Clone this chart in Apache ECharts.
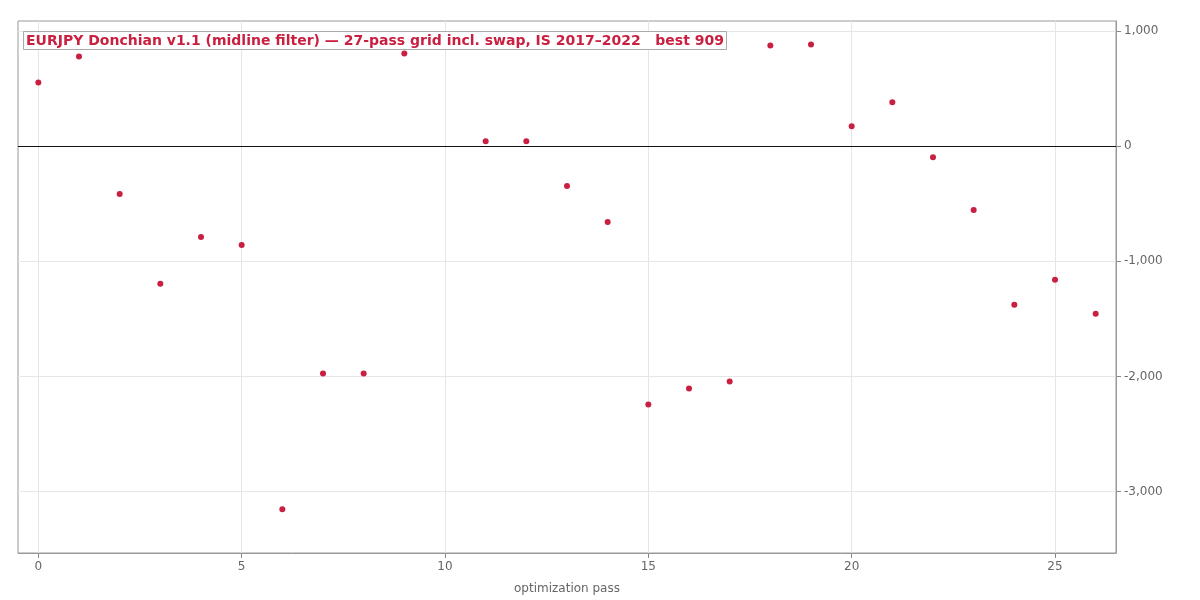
<!DOCTYPE html>
<html>
<head>
<meta charset="utf-8">
<script src="https://cdn.jsdelivr.net/npm/echarts@6/dist/echarts.min.js"></script>
<style>
    html, body { margin: 0; padding: 0; background: #fff; }
    #chart { width: 1200px; height: 600px; }
</style>
</head>
<body>
<div id="chart"></div>
<script>
// Valeurs (profit par passe d'optimisation)
const passes = [0, 1, 2, 3, 4, 5, 6, 7, 8, 9, 10, 11, 12, 13, 14, 15, 16, 17, 18, 19, 20, 21, 22, 23, 24, 25, 26];
const profits = [554, 779, -416, -1195, -788, -857, -3152, -1974, -1974, 805, 909, 43, 43, -346, -658,
                 -2242, -2104, -2043, 874, 883, 173, 381, -95, -554, -1377, -1160, -1455];
const xTicks = [0, 5, 10, 15, 20, 25];
const yTicks = [-3000, -2000, -1000, 0, 1000];

const titleText = "EURJPY Donchian v1.1 (midline filter) \u2014 27-pass grid incl. swap, IS 2017\u20132022   best 909";

const red = "#c91f41";
const font = "DejaVu Sans";

const chart = echarts.init(document.getElementById("chart"));

chart.setOption({
    animation: false,
    backgroundColor: "#fff",
    title: {
        text: titleText,
        left: 23,
        top: 31,
        padding: [3, 3, 2, 3],
        backgroundColor: "#fff",
        borderColor: "#aaa",
        borderWidth: 1,
        textStyle: { color: red, fontFamily: font, fontWeight: "bold", fontSize: 14 }
    },
    grid: { left: 18, right: 84, top: 21, bottom: 45, show: true, borderColor: "#999", borderWidth: 1 },
    xAxis: {
        type: "value",
        min: -0.5,
        max: 26.5,
        name: "optimization pass",
        nameLocation: "middle",
        nameGap: 30,
        nameTextStyle: { color: "#666", fontFamily: font, fontSize: 12 },
        axisLine: { show: true, onZero: false, lineStyle: { color: "#999" } },
        axisTick: { show: true, inside: false, customValues: xTicks, length: 5, lineStyle: { color: "#888", width: 1 } },
        axisLabel: { customValues: xTicks, color: "#666", fontFamily: font, fontSize: 12, margin: 8 },
        splitLine: { show: true, lineStyle: { color: "#e6e6e6" } }
    },
    yAxis: {
        type: "value",
        position: "right",
        min: -3532,
        max: 1087,
        axisLine: { show: true, onZero: false, lineStyle: { color: "#999" } },
        axisTick: { show: true, inside: false, customValues: yTicks, length: 5, lineStyle: { color: "#888", width: 1 } },
        axisLabel: {
            customValues: yTicks,
            color: "#666", fontFamily: font, fontSize: 12, margin: 8,
            formatter: (v) => v.toLocaleString("en-US")
        },
        splitLine: { show: true, lineStyle: { color: "#e6e6e6" } }
    },
    series: [{
        type: "scatter",
        symbolSize: 6,
        itemStyle: { color: red, opacity: 1 },
        data: passes.map((p, i) => [p, profits[i]]),
        markLine: {
            silent: true,
            symbol: "none",
            label: { show: false },
            lineStyle: { color: "#111", width: 1.2, type: "solid" },
            data: [{ yAxis: 0 }]
        }
    }]
});
</script>
</body>
</html>
